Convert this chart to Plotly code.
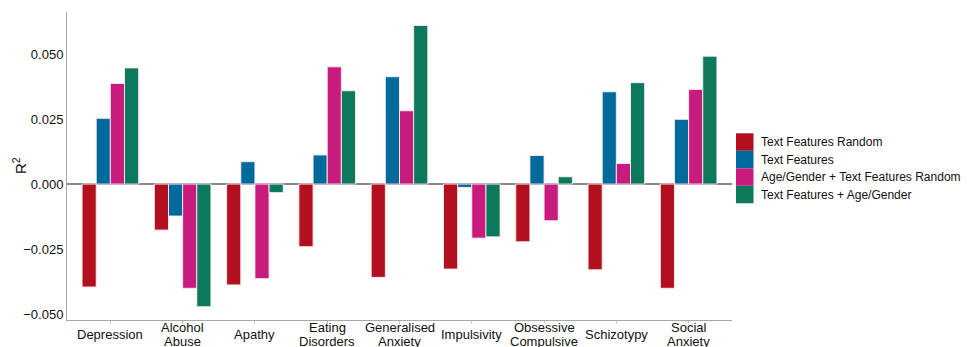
import plotly.graph_objects as go

categories = [
    "Depression", "Alcohol<br>Abuse", "Apathy", "Eating<br>Disorders",
    "Generalised<br>Anxiety", "Impulsivity", "Obsessive<br>Compulsive",
    "Schizotypy", "Social<br>Anxiety",
]
series_names = [
    "Text Features Random",
    "Text Features",
    "Age/Gender + Text Features Random",
    "Text Features + Age/Gender",
]
text_random = [-0.0396, -0.0177, -0.0388, -0.0241, -0.0359, -0.0327, -0.0222, -0.0330, -0.0401]
text_features = [0.0253, -0.0123, 0.0086, 0.0112, 0.0413, -0.0013, 0.0110, 0.0355, 0.0249]
agegender_text_random = [0.0387, -0.0401, -0.0364, 0.0451, 0.0282, -0.0208, -0.0141, 0.0079, 0.0364]
text_agegender = [0.0447, -0.0472, -0.0033, 0.0359, 0.0610, -0.0203, 0.0028, 0.0390, 0.0492]
y_ticks = [-0.05, -0.025, 0.0, 0.025, 0.05]
y_title = "R<sup>2</sup>"

colors = ["#B3101F", "#006A9A", "#C81B7E", "#0C785C"]
values = [text_random, text_features, agegender_text_random, text_agegender]

FONT = "Liberation Sans, Arial, sans-serif"
W, H = 967, 347
ML, MR, MT, MB = 67, 235, 12, 27
PW, PH = W - ML - MR, H - MT - MB


def px_to_paper_y(py):
    return 1 - (py - MT) / PH


def px_to_paper_x(px):
    return (px - ML) / PW


fig = go.Figure()
for name, vals, col in zip(series_names, values, colors):
    fig.add_trace(go.Bar(
        x=categories, y=vals, name=name,
        marker=dict(color=col, line=dict(color="rgba(255,235,240,0.9)", width=1)),
        showlegend=False,
    ))

# Category labels under the axis, tightly leaded, centred on each category
LINE_STEP = 14
for cat in categories:
    lines = cat.split("<br>")
    n = len(lines)
    for j, line in enumerate(lines):
        centre = 334.5 + (j - (n - 1) / 2) * LINE_STEP
        fig.add_annotation(
            xref="x", yref="paper", x=cat, y=px_to_paper_y(centre),
            text=line, showarrow=False, xanchor="center", yanchor="middle",
            font=dict(family=FONT, size=13, color="#111"),
        )

# Rotated y-axis title
fig.add_annotation(
    xref="paper", yref="paper", x=px_to_paper_x(19), y=px_to_paper_y(166),
    text=y_title, textangle=-90, showarrow=False,
    xanchor="center", yanchor="middle",
    font=dict(family=FONT, size=15, color="#111"),
)

# Legend drawn as stacked colour blocks with labels beside them
y_top_px = 133.3
step_px = 17.5
for i, (name, col) in enumerate(zip(series_names, colors)):
    y0 = y_top_px + i * step_px
    y1 = y0 + step_px
    fig.add_shape(
        type="rect", xref="paper", yref="paper",
        x0=px_to_paper_x(736), x1=px_to_paper_x(753.5),
        y0=px_to_paper_y(y1), y1=px_to_paper_y(y0),
        fillcolor=col, line=dict(width=0), layer="above",
    )
    fig.add_annotation(
        xref="paper", yref="paper",
        x=px_to_paper_x(759), y=px_to_paper_y((y0 + y1) / 2),
        text=name, showarrow=False, xanchor="left", yanchor="middle",
        font=dict(family=FONT, size=12, color="#111"),
    )

fig.update_layout(
    width=W, height=H,
    margin=dict(l=ML, r=MR, t=MT, b=MB),
    paper_bgcolor="white", plot_bgcolor="white",
    barmode="group", bargap=0.217, bargroupgap=0.0,
    font=dict(family=FONT, size=13, color="#111"),
)
fig.update_xaxes(
    automargin=False,
    range=[-0.6, len(categories) - 0.4],
    showticklabels=False,
    showline=True, linecolor="#a8a8a8", linewidth=1,
    ticks="outside", ticklen=3, tickcolor="#c8c8c8",
    showgrid=False,
)
fig.update_yaxes(
    automargin=False,
    range=[-0.0523, 0.0662],
    tickvals=y_ticks, tickformat=".3f",
    showline=True, linecolor="#a8a8a8", linewidth=1,
    ticks="", showgrid=False,
    zeroline=True, zerolinecolor="#8a8a8a", zerolinewidth=2,
    tickfont=dict(size=13, color="#111"),
)

fig.write_html("out.html")
